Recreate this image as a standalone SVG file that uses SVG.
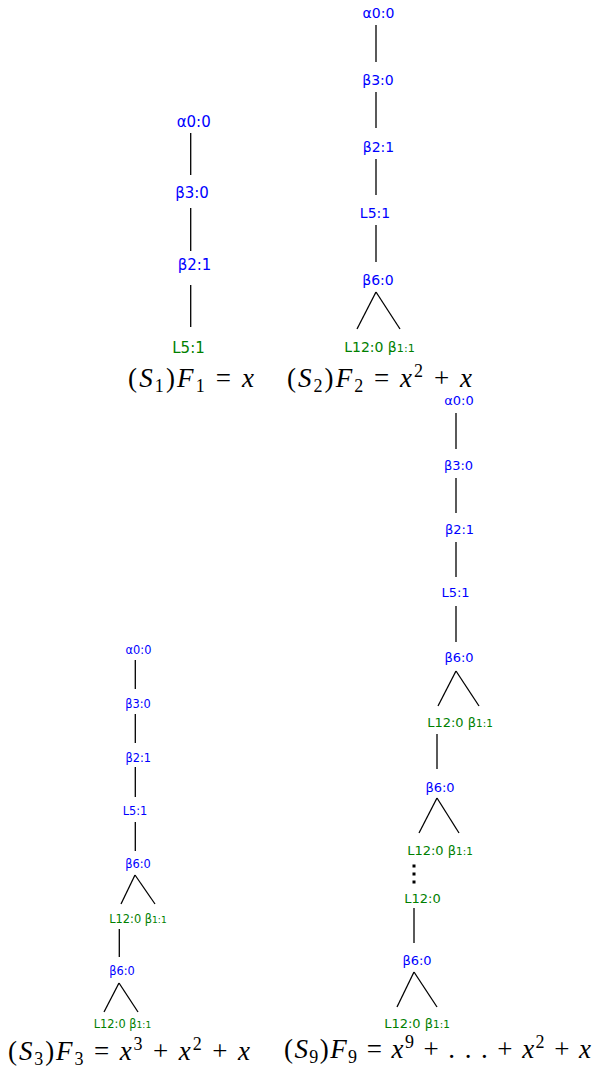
<svg xmlns="http://www.w3.org/2000/svg" width="592" height="1072" viewBox="0 0 592 1072">
<style>
.n{font-family:"DejaVu Sans",sans-serif;text-anchor:middle;fill:#0000ff}
.g{fill:#008000}
.sm{font-size:80%}
.t1{font-size:15px}.t2{font-size:14px}.t3{font-size:11.4px}.t4{font-size:13px}
.e line{stroke:#000;stroke-width:1.3;fill:none}
.cap{font-family:"Liberation Serif","Times New Roman",serif;font-size:27px;fill:#000}
.i{font-style:italic}
.sb{font-size:18px}
</style>
<rect width="592" height="1072" fill="#fff"/>
<g id="connectors" class="e">
<line x1="190.7" y1="133" x2="190.7" y2="175"/>
<line x1="190.7" y1="208" x2="190.7" y2="251"/>
<line x1="190.7" y1="285" x2="190.7" y2="327"/>
<line x1="376" y1="25" x2="376" y2="62"/>
<line x1="376" y1="92" x2="376" y2="128"/>
<line x1="376" y1="159" x2="376" y2="195"/>
<line x1="376" y1="225" x2="376" y2="262"/>
<line x1="376" y1="292" x2="357" y2="329"/>
<line x1="376" y1="292" x2="400" y2="329"/>
<line x1="135.3" y1="660" x2="135.3" y2="689"/>
<line x1="135.3" y1="714" x2="135.3" y2="743"/>
<line x1="135.3" y1="767" x2="135.3" y2="797"/>
<line x1="135.3" y1="822" x2="135.3" y2="851"/>
<line x1="135" y1="875" x2="121" y2="904"/>
<line x1="135" y1="875" x2="155" y2="904"/>
<line x1="119.3" y1="929" x2="119.3" y2="957"/>
<line x1="119" y1="983" x2="104" y2="1012"/>
<line x1="119" y1="983" x2="138" y2="1012"/>
<line x1="456" y1="413" x2="456" y2="449"/>
<line x1="456" y1="478" x2="456" y2="513"/>
<line x1="456" y1="542" x2="456" y2="577"/>
<line x1="456" y1="606" x2="456" y2="642"/>
<line x1="456" y1="671" x2="438" y2="706"/>
<line x1="456" y1="671" x2="479" y2="706"/>
<line x1="437" y1="734" x2="437" y2="769"/>
<line x1="437" y1="798" x2="419" y2="833"/>
<line x1="437" y1="798" x2="459" y2="833"/>
<line x1="414" y1="908" x2="414" y2="943"/>
<line x1="414" y1="972" x2="397" y2="1007"/>
<line x1="414" y1="972" x2="437" y2="1007"/>
</g>
<g id="dots">
<rect x="412.5" y="864.5" width="3" height="3" fill="#000"/>
<rect x="412.5" y="872.5" width="3" height="3" fill="#000"/>
<rect x="412.5" y="880.5" width="3" height="3" fill="#000"/>
</g>
<g id="t1-a00"><text class="n t1" x="193.7" y="127">α0:0</text></g>
<g id="t1-b30"><text class="n t1" x="192" y="198">β3:0</text></g>
<g id="t1-b21"><text class="n t1" x="194.5" y="270">β2:1</text></g>
<g id="t1-l51"><text class="n t1 g" x="188.5" y="353">L5:1</text></g>
<g id="t2-a00"><text class="n t2" x="378.5" y="18">α0:0</text></g>
<g id="t2-b30"><text class="n t2" x="378" y="85">β3:0</text></g>
<g id="t2-b21"><text class="n t2" x="378.5" y="152">β2:1</text></g>
<g id="t2-l51"><text class="n t2" x="375" y="218">L5:1</text></g>
<g id="t2-b60"><text class="n t2" x="378" y="285">β6:0</text></g>
<g id="t2-leaf"><text class="n t2 g" x="379.5" y="352">L12:0 β<tspan class="sm">1:1</tspan></text></g>
<g id="t3-a00"><text class="n t3" x="138.5" y="654">α0:0</text></g>
<g id="t3-b30"><text class="n t3" x="138" y="708">β3:0</text></g>
<g id="t3-b21"><text class="n t3" x="138.3" y="762">β2:1</text></g>
<g id="t3-l51"><text class="n t3" x="135" y="815">L5:1</text></g>
<g id="t3-b60a"><text class="n t3" x="138" y="868">β6:0</text></g>
<g id="t3-leafa"><text class="n t3 g" x="138" y="923">L12:0 β<tspan class="sm">1:1</tspan></text></g>
<g id="t3-b60b"><text class="n t3" x="122" y="975">β6:0</text></g>
<g id="t3-leafb"><text class="n t3 g" x="122.5" y="1028">L12:0 β<tspan class="sm">1:1</tspan></text></g>
<g id="t4-a00"><text class="n t4" x="459" y="405">α0:0</text></g>
<g id="t4-b30"><text class="n t4" x="458.5" y="470">β3:0</text></g>
<g id="t4-b21"><text class="n t4" x="459.5" y="534">β2:1</text></g>
<g id="t4-l51"><text class="n t4" x="455.5" y="597">L5:1</text></g>
<g id="t4-b60a"><text class="n t4" x="459" y="662">β6:0</text></g>
<g id="t4-leafa"><text class="n t4 g" x="460" y="727">L12:0 β<tspan class="sm">1:1</tspan></text></g>
<g id="t4-b60b"><text class="n t4" x="440" y="792">β6:0</text></g>
<g id="t4-leafb"><text class="n t4 g" x="440" y="855">L12:0 β<tspan class="sm">1:1</tspan></text></g>
<g id="t4-l120"><text class="n t4 g" x="422.5" y="903">L12:0</text></g>
<g id="t4-b60c"><text class="n t4" x="417" y="965">β6:0</text></g>
<g id="t4-leafc"><text class="n t4 g" x="417" y="1028">L12:0 β<tspan class="sm">1:1</tspan></text></g>
<g id="cap1"><text class="cap" x="128" y="387" textLength="126" lengthAdjust="spacing">(<tspan class="i">S</tspan><tspan class="sb" dy="5">1</tspan><tspan dy="-5">)</tspan><tspan class="i">F</tspan><tspan class="sb" dy="5">1</tspan><tspan dy="-5"> = </tspan><tspan class="i">x</tspan></text></g>
<g id="cap2"><text class="cap" x="287" y="387" textLength="185" lengthAdjust="spacing">(<tspan class="i">S</tspan><tspan class="sb" dy="5">2</tspan><tspan dy="-5">)</tspan><tspan class="i">F</tspan><tspan class="sb" dy="5">2</tspan><tspan dy="-5"> = </tspan><tspan class="i">x</tspan><tspan class="sb" dy="-10">2</tspan><tspan dy="10"> + </tspan><tspan class="i">x</tspan></text></g>
<g id="cap3"><text class="cap" x="8" y="1060" textLength="242" lengthAdjust="spacing">(<tspan class="i">S</tspan><tspan class="sb" dy="5">3</tspan><tspan dy="-5">)</tspan><tspan class="i">F</tspan><tspan class="sb" dy="5">3</tspan><tspan dy="-5"> = </tspan><tspan class="i">x</tspan><tspan class="sb" dy="-10">3</tspan><tspan dy="10"> + </tspan><tspan class="i">x</tspan><tspan class="sb" dy="-10">2</tspan><tspan dy="10"> + </tspan><tspan class="i">x</tspan></text></g>
<g id="cap9"><text class="cap" x="284" y="1058" textLength="307" lengthAdjust="spacing">(<tspan class="i">S</tspan><tspan class="sb" dy="5">9</tspan><tspan dy="-5">)</tspan><tspan class="i">F</tspan><tspan class="sb" dy="5">9</tspan><tspan dy="-5"> = </tspan><tspan class="i">x</tspan><tspan class="sb" dy="-10">9</tspan><tspan dy="10"> + . . . + </tspan><tspan class="i">x</tspan><tspan class="sb" dy="-10">2</tspan><tspan dy="10"> + </tspan><tspan class="i">x</tspan></text></g>
</svg>
